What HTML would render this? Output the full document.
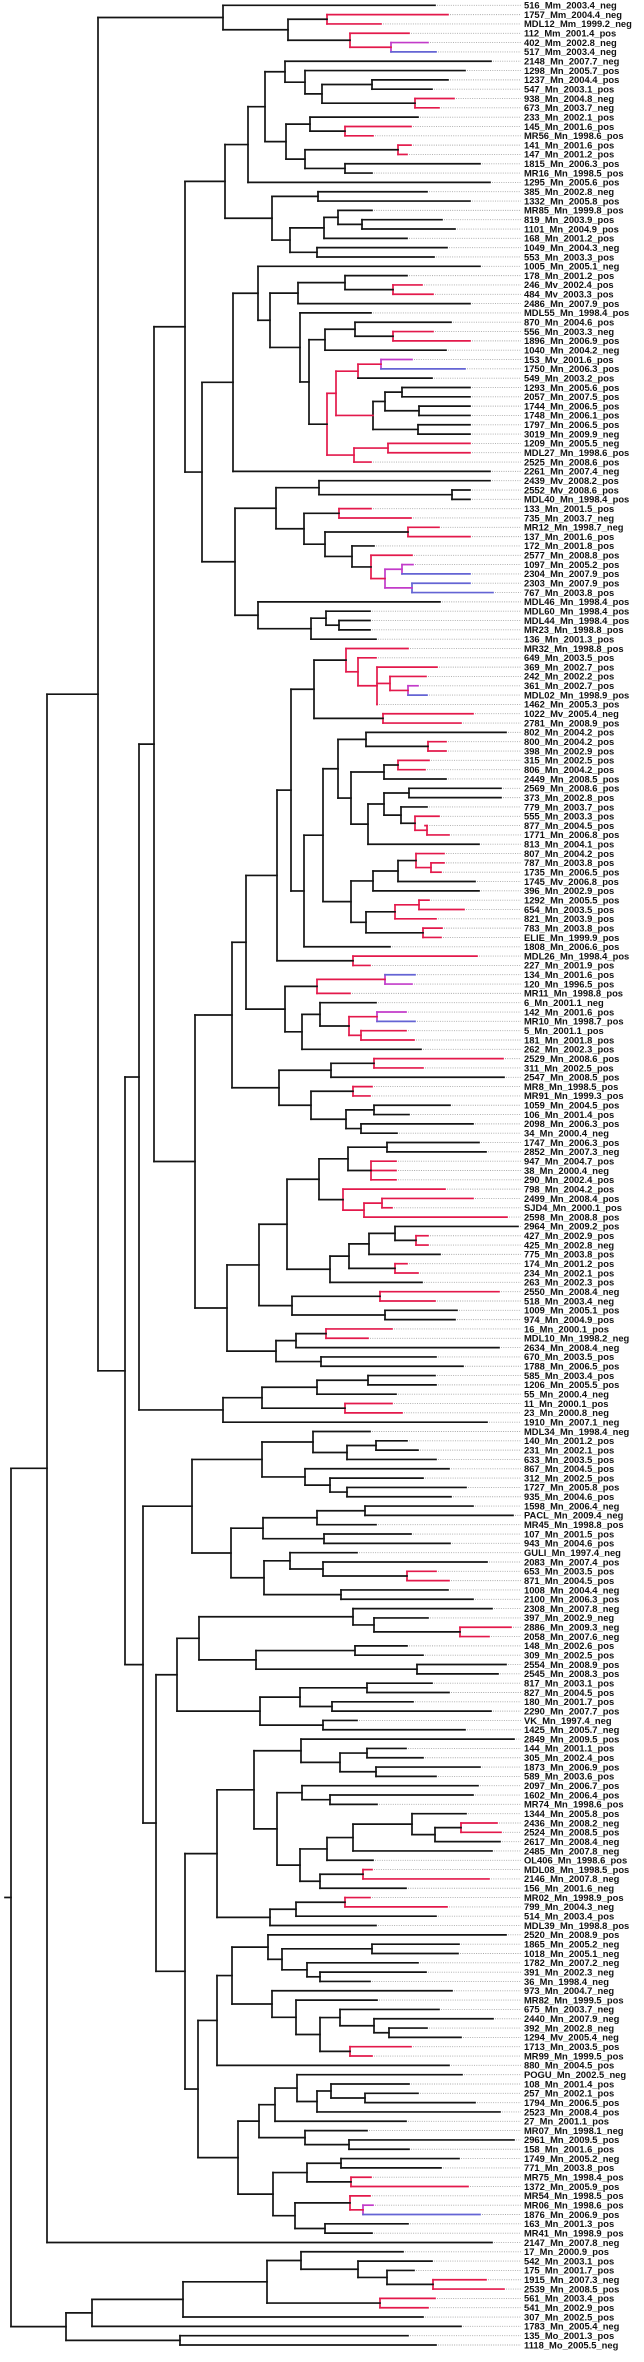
<!DOCTYPE html>
<html>
<head>
<meta charset="utf-8">
<style>
  html,body{margin:0;padding:0;background:#fff;}
  svg{display:block;}
  .lbl{font-family:"Liberation Sans",Arial,sans-serif;font-size:9.4px;font-weight:bold;fill:#111;}
</style>
</head>
<body>
<svg id="chart" width="644" height="2362" viewBox="0 0 644 2362" xmlns="http://www.w3.org/2000/svg">
  <rect x="0" y="0" width="644" height="2362" fill="#fff"/>
  <g id="leaders"></g>
  <g id="branches"></g>
  <g id="labels"></g>
</svg>
<script>
// ---- data: leaf labels (top to bottom) ----
const labels = [
"516_Mm_2003.4_neg","1757_Mm_2004.4_neg","MDL12_Mm_1999.2_neg","112_Mm_2001.4_pos","402_Mm_2002.8_neg","517_Mm_2003.4_neg",
"2148_Mn_2007.7_neg","1298_Mn_2005.7_pos","1237_Mn_2004.4_pos","547_Mn_2003.1_pos","938_Mn_2004.8_neg","673_Mn_2003.7_neg",
"233_Mn_2002.1_pos","145_Mn_2001.6_pos","MR56_Mn_1998.6_pos","141_Mn_2001.6_pos","147_Mn_2001.2_pos","1815_Mn_2006.3_pos",
"MR16_Mn_1998.5_pos","1295_Mn_2005.6_pos","385_Mn_2002.8_neg","1332_Mn_2005.8_pos","MR85_Mn_1999.8_pos","819_Mn_2003.9_pos",
"1101_Mn_2004.9_pos","168_Mn_2001.2_pos","1049_Mn_2004.3_neg","553_Mn_2003.3_pos",
"1005_Mn_2005.1_neg","178_Mn_2001.2_pos","246_Mv_2002.4_pos","484_Mv_2003.3_pos","2486_Mn_2007.9_pos","MDL55_Mn_1998.4_pos",
"870_Mn_2004.6_pos","556_Mn_2003.3_neg","1896_Mn_2006.9_pos","1040_Mn_2004.2_neg","153_Mv_2001.6_pos","1750_Mn_2006.3_pos",
"549_Mn_2003.2_pos","1293_Mn_2005.6_pos","2057_Mn_2007.5_pos","1744_Mn_2006.5_pos","1748_Mn_2006.1_pos","1797_Mn_2006.5_pos",
"3019_Mn_2009.9_neg","1209_Mn_2005.5_neg","MDL27_Mn_1998.6_pos","2525_Mn_2008.6_pos",
"2261_Mn_2007.4_neg","2439_Mv_2008.2_pos","2552_Mv_2008.6_pos","MDL40_Mn_1998.4_pos","133_Mn_2001.5_pos","735_Mn_2003.7_neg",
"MR12_Mn_1998.7_neg","137_Mn_2001.6_pos","172_Mn_2001.8_pos","2577_Mn_2008.8_pos","1097_Mn_2005.2_pos","2304_Mn_2007.9_pos",
"2303_Mn_2007.9_pos","767_Mn_2003.8_pos","MDL46_Mn_1998.4_pos","MDL60_Mn_1998.4_pos","MDL44_Mn_1998.4_pos","MR23_Mn_1998.8_pos",
"136_Mn_2001.3_pos","MR32_Mn_1998.8_pos","649_Mn_2003.5_pos","369_Mn_2002.7_pos","242_Mn_2002.2_pos","361_Mn_2002.7_pos",
"MDL02_Mn_1998.9_pos","1462_Mn_2005.3_pos","1022_Mv_2005.4_neg","2781_Mn_2008.9_pos","802_Mn_2004.2_pos","800_Mn_2004.2_pos",
"398_Mn_2002.9_pos","315_Mn_2002.5_pos","806_Mn_2004.2_pos","2449_Mn_2008.5_pos","2569_Mn_2008.6_pos","373_Mn_2002.8_pos",
"779_Mn_2003.7_pos","555_Mn_2003.3_pos","877_Mn_2004.5_pos","1771_Mn_2006.8_pos","813_Mn_2004.1_pos","807_Mn_2004.2_pos",
"787_Mn_2003.8_pos","1735_Mn_2006.5_pos","1745_Mv_2006.8_pos","396_Mn_2002.9_pos","1292_Mn_2005.5_pos","654_Mn_2003.5_pos",
"821_Mn_2003.9_pos","783_Mn_2003.8_pos","ELIE_Mn_1999.9_pos","1808_Mn_2006.6_pos","MDL26_Mn_1998.4_pos","227_Mn_2001.9_pos",
"134_Mn_2001.6_pos","120_Mn_1996.5_pos","MR11_Mn_1998.8_pos","6_Mn_2001.1_neg","142_Mn_2001.6_pos","MR10_Mn_1998.7_pos",
"5_Mn_2001.1_pos","181_Mn_2001.8_pos","262_Mn_2002.3_pos","2529_Mn_2008.6_pos","311_Mn_2002.5_pos","2547_Mn_2008.5_pos",
"MR8_Mn_1998.5_pos","MR91_Mn_1999.3_pos","1059_Mn_2004.5_pos","106_Mn_2001.4_pos","2098_Mn_2006.3_pos","34_Mn_2000.4_neg",
"1747_Mn_2006.3_pos","2852_Mn_2007.3_neg","947_Mn_2004.7_pos","38_Mn_2000.4_neg","290_Mn_2002.4_pos","798_Mn_2004.2_pos",
"2499_Mn_2008.4_pos","SJD4_Mn_2000.1_pos","2598_Mn_2008.8_pos","2964_Mn_2009.2_pos","427_Mn_2002.9_pos","425_Mn_2002.8_neg",
"775_Mn_2003.8_pos","174_Mn_2001.2_pos","234_Mn_2002.1_pos","263_Mn_2002.3_pos","2550_Mn_2008.4_neg","518_Mn_2003.4_neg",
"1009_Mn_2005.1_pos","974_Mn_2004.9_pos","16_Mn_2000.1_pos","MDL10_Mn_1998.2_neg","2634_Mn_2008.4_neg","670_Mn_2003.5_pos",
"1788_Mn_2006.5_pos","585_Mn_2003.4_pos","1206_Mn_2005.5_pos","55_Mn_2000.4_neg","11_Mn_2000.1_pos","23_Mn_2000.8_neg",
"1910_Mn_2007.1_neg","MDL34_Mn_1998.4_neg","140_Mn_2001.2_pos","231_Mn_2002.1_pos","633_Mn_2003.5_pos","867_Mn_2004.5_pos",
"312_Mn_2002.5_pos","1727_Mn_2005.8_pos","935_Mn_2004.6_pos","1598_Mn_2006.4_neg","PACL_Mn_2009.4_neg","MR45_Mn_1998.8_pos",
"107_Mn_2001.5_pos","943_Mn_2004.6_pos","GULI_Mn_1997.4_neg","2083_Mn_2007.4_pos","653_Mn_2003.5_pos","871_Mn_2004.5_pos",
"1008_Mn_2004.4_neg","2100_Mn_2006.3_pos","2308_Mn_2007.8_neg","397_Mn_2002.9_neg","2886_Mn_2009.3_neg","2058_Mn_2007.6_neg",
"148_Mn_2002.6_pos","309_Mn_2002.5_pos","2554_Mn_2008.9_pos","2545_Mn_2008.3_pos","817_Mn_2003.1_pos","827_Mn_2004.5_pos",
"180_Mn_2001.7_pos","2290_Mn_2007.7_pos","VK_Mn_1997.4_neg","1425_Mn_2005.7_neg","2849_Mn_2009.5_pos","144_Mn_2001.1_pos",
"305_Mn_2002.4_pos","1873_Mn_2006.9_pos","589_Mn_2003.6_pos","2097_Mn_2006.7_pos","1602_Mn_2006.4_pos","MR74_Mn_1998.6_pos",
"1344_Mn_2005.8_pos","2436_Mn_2008.2_neg","2524_Mn_2008.5_pos","2617_Mn_2008.4_neg","2485_Mn_2007.8_neg","OL406_Mn_1998.6_pos",
"MDL08_Mn_1998.5_pos","2146_Mn_2007.8_neg","156_Mn_2001.6_neg","MR02_Mn_1998.9_pos","799_Mn_2004.3_neg","514_Mn_2003.4_pos",
"MDL39_Mn_1998.8_pos","2520_Mn_2008.9_pos","1865_Mn_2005.2_neg","1018_Mn_2005.1_neg","1782_Mn_2007.2_neg","391_Mn_2002.3_neg",
"36_Mn_1998.4_neg","973_Mn_2004.7_neg","MR82_Mn_1999.5_pos","675_Mn_2003.7_neg","2440_Mn_2007.9_neg","392_Mn_2002.8_neg",
"1294_Mv_2005.4_neg","1713_Mn_2003.5_pos","MR99_Mn_1999.5_pos","880_Mn_2004.5_pos","POGU_Mn_2002.5_neg","108_Mn_2001.4_pos",
"257_Mn_2002.1_pos","1794_Mn_2006.5_pos","2523_Mn_2008.4_pos","27_Mn_2001.1_pos","MR07_Mn_1998.1_neg","2961_Mn_2009.5_pos",
"158_Mn_2001.6_pos","1749_Mn_2005.2_neg","771_Mn_2003.8_pos","MR75_Mn_1998.4_pos","1372_Mn_2005.9_pos","MR54_Mn_1998.5_pos",
"MR06_Mn_1998.6_pos","1876_Mn_2006.9_pos","163_Mn_2001.3_pos","MR41_Mn_1998.9_pos","2147_Mn_2007.8_neg","17_Mn_2000.9_pos",
"542_Mn_2003.1_pos","175_Mn_2001.7_pos","1915_Mn_2007.3_neg","2539_Mn_2008.5_pos","561_Mn_2003.4_pos","541_Mn_2002.9_pos",
"307_Mn_2002.5_pos","1783_Mn_2005.4_neg","135_Mo_2001.3_pos","1118_Mo_2005.5_neg"
];

// ---- data: clades (node = [optional colour, x, ...children]; leaf = tip x, optional colour prefix) ----
const clade0 = [223, 435, [288, ["r",327,"r448","r381"], ["r",350,"r409",["m",391,"m428","b436"]]]];
const cladeTopA = [225,
  [248,
    [265,
      [285, 491, [305, 465, [322, [372, 448, 432], ["r",415,"r454","r439"]]]],
      [286, [310, 418, ["r",345,"r411","r373"]], [305, ["r",398,"r411","r407"], [345, 480, 372]]]
    ],
    490
  ],
  [272, [318, 427, 470], [290, [324, [338, 372, [362, 442, 455]], 407], [317, 447, 434]]]
];
const cladeTopB = [233,
  [258, 480,
    [270,
      [298, [345, 407, ["r",393,"r422","r433"]], 470],
      [300, 371, [309, [325, [355, 451, ["r",393,"r433","r470"]], 446],
          ["r",327,
             ["r",336, ["r",358, ["m",381,"m412","b465"], 432],
                 [373, [385, [402, 470, 470],[419, 470, 470]], [418, 470, 470]]],
             ["r",354, ["r",388,"r470","r470"], "r371"]
          ]]]
    ]
  ],
  490
];
const cladeTopC = [235,
  [276, [319, 490, [452, 470, 470]],
        [304, ["r",339,"r371","r411"],
              [325, ["r",408,"r439","r470"],
                    [352, 374, ["r",371,"r412", ["m",385, ["m",402,"m413","b470"], ["b",412,"b470","b493"]]]]]]],
  [258, 440, [311, [326, 370, [339, 370, 370]], 376]]
];
const cladeMidA = [314, ["r",346,"r408",["r",358,"r376",["r",377,"r437",["r",390,"r426",["m",408,"m418","b427"]],"r377"]]], ["r",383,"r473","r461"]];
const cladeMidB = [338, [366, 506, ["r",428,"r446","r446"]],
   [351, [384, ["r",398,"r429","r425"], 446],
         [368, [384, [409, 501, 501], [401, 427, ["r",415,"r439",["r",427,"r425","r449"]]]], 479]]];
const cladeMidC = [351, [373, [398, ["r",416,"r444",["r",431,"r444","r441"]], 475], 479],
   [366, ["r",395, ["r",419,"r429","r464"], "r436"], ["r",423,"r442","r441"]]];
const cladeMidD = [285, ["r",317, ["m",385,"b415","m412"], "r350"],
   [302, [320, 376, ["r",349, ["m",377,"m406","b415"], ["r",361,"r406","r414"]]], 421]];
const cladeMidE = [279, [331, ["r",374,"r503","r423"], 504], [311, ["r",353,"r372","r370"], [346, [374, 450, 409], [361, 473, 397]]]];
const cladeMidF = [319, [348, [387, 479, 486], ["r",371,"r396","r396","r396"]], ["r",343,"r445",["r",364,["r",382,"r473","r392"],"r507"]]];
const cladeMidG = [330, [349, [369, [395, 518, ["r",416,"r428","r428"]], 440], ["r",395,"r407","r418"]], 422];
const cladeMidH = [292, ["r",380,"r499","r435"], [385, 457, 455]];
const cladeMidI = [276, [296, ["r",326,"r392","r368"], 499], [321, 436, 463]];
const cladeMidJ = [223, [262, [317, [368, 435, 436], 396], ["r",345,"r392","r402"]], 487];
const cladeLowA = [192, [262, [313, 370, [347, [376, 407, 418], 436]], [305, 449, [330, 423, [347, 466, 451]]]],
   [231, [263, [317, [365, 473, 513], 376], [324, 411, 450]], [264, [290, 357, [323, 487, ["r",407,"r436","r449"]]], [341, 448, 473]]]];
const cladeLowB = [177, [199, [353, 492, [374, 428, ["r",460,"r511","r489"]]], [256, [355, 407, 423], [417, 506, 498]]],
   [260, [300, [367, 432, 449], [332, 413, 491]], [323, 357, 465]]];
const cladeLowC = [254, [301, 514, [340, [367, 406, 423], [376, 480, 436]]], [277, [302, 478, [330, 473, 377]], [300, [327, [353, [412, 466, [435, ["r",461,"r497","r501"], 500]], 492], 373], [320, ["r",363,"r372","r489"], 406]]]];
const cladeLowD = [270, [296, ["r",345,"r370","r447"], 436], 376];
const cladeLowE = [217, [232, [268, 506, [282, [372, 459, 458], [307, 418, [320, 426, 370]]]], [272, 452, [296, 377, [320, [340, 439, [374, 493, [389, 427, 461]]], ["r",350,"r411","r372"]]]]], 449];
const cladeLowF = [238, [259, [275, [297, 462, [317, [331, 409, [365, 418, 475]], 500]], 406], [305, 367, [349, 514, 409]]],
   [273, [307, [341, 459, 441], ["r",351,"r371","r468"]], [295, ["r",350,"r370",["m",363,"m373","b480"]], [325, 408, 372]]]];
const cladeOut = [66, [92, [183, [267, [301, 403, [358, 432, [387, 414, ["r",433,"r486","r504"]]]], ["r",380,"r435","r428"]], 423], 461], [180, 408, 436]];

const tree = [11,
  [47,
    [98, clade0,
      [125,
        [139,
          [154,
            [185, cladeTopA, [202, cladeTopB, cladeTopC]],
            [195,
              [232, [246, [277, [291, cladeMidA, [304, [323, cladeMidB, cladeMidC], 390]], ["r",353,"r477","r370"]], cladeMidD], cladeMidE],
              [227, [259, [287, cladeMidF, cladeMidG], cladeMidH], cladeMidI]
            ]
          ],
          cladeMidJ
        ],
        [143, cladeLowA, [156, cladeLowB, [185, [217, cladeLowC, cladeLowD], [198, cladeLowE, cladeLowF]]]]
      ]
    ],
    492
  ],
  cladeOut
];

// ---- rendering ----
const COLORS = {k:"#141414", r:"#e3194b", m:"#c23bc9", b:"#6464d4"};
const NS = "http://www.w3.org/2000/svg";
const gB = document.getElementById("branches");
const gL = document.getElementById("leaders");
const gT = document.getElementById("labels");
const Y_FIRST = 5.3, Y_LAST = 2345, LABEL_X = 524, LEADER_END = 521;

function countLeaves(n){
  if(!Array.isArray(n)) return 1;
  const k = typeof n[0]==="string" ? 2 : 1;
  let c = 0; for(let i=k;i<n.length;i++) c += countLeaves(n[i]); return c;
}
const N = countLeaves(tree);
const step = (Y_LAST - Y_FIRST)/(N-1);
function yScale(i){ return Y_FIRST + step*i; }
let leafCounter = 0;

function line(x1,y1,x2,y2,col,name){
  const l = document.createElementNS(NS,"line");
  l.setAttribute("x1",x1); l.setAttribute("y1",y1); l.setAttribute("x2",x2); l.setAttribute("y2",y2);
  l.setAttribute("stroke",COLORS[col]||COLORS.k);
  l.setAttribute("stroke-width","1.7");
  l.setAttribute("stroke-linecap","square");
  
  
  gB.appendChild(l);
}

function layout(n, parentV){
  if(!Array.isArray(n)){
    let col="k", x;
    if(typeof n==="string"){ col=n[0]; x=+n.slice(1); } else x=n;
    const i = leafCounter++;
    const y = yScale(i);
    const d = document.createElementNS(NS,"line");
    d.setAttribute("x1",x+2); d.setAttribute("y1",y); d.setAttribute("x2",LEADER_END); d.setAttribute("y2",y);
    d.setAttribute("stroke","#a8a8a8"); d.setAttribute("stroke-width","0.9"); d.setAttribute("stroke-dasharray","1 1.3");
    
    
    gL.appendChild(d);
    const t = document.createElementNS(NS,"text");
    t.setAttribute("x",LABEL_X); t.setAttribute("y",y+3.3); t.setAttribute("class","lbl");
    t.textContent = labels[i] || "";
    
    
    gT.appendChild(t);
    return {x, y, inc: col};
  }
  let k=0, v="k";
  if(typeof n[0]==="string"){ v=n[0]; k=1; }
  const x = n[k];
  const kids = [];
  for(let i=k+1;i<n.length;i++) kids.push(layout(n[i], v));
  const yTop = kids[0].y, yBot = kids[kids.length-1].y;
  line(x, yTop, x, yBot, v, "clade-node");
  kids.forEach(c => line(x, c.y, c.x, c.y, c.inc, "branch"));
  return {x, y:(yTop+yBot)/2, inc: parentV || "k"};
}
const root = layout(tree, "k");
line(5, root.y, root.x, root.y, "k", "root-stem");
</script>
</body>
</html>
